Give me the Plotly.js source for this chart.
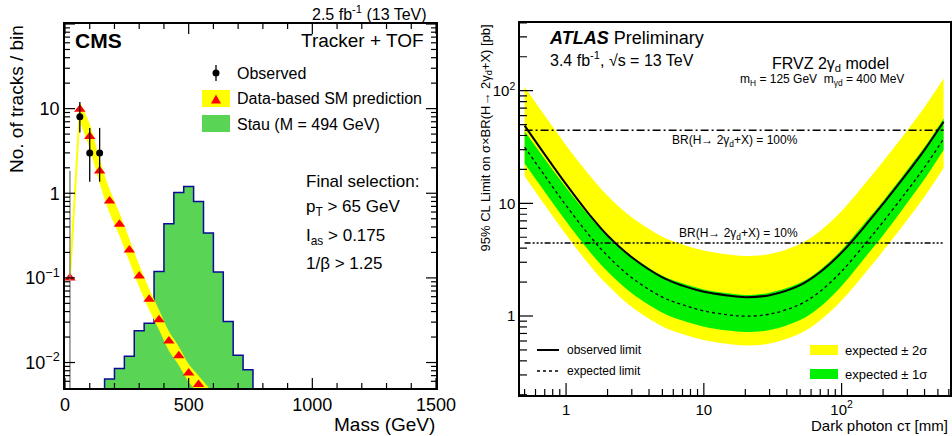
<!DOCTYPE html>
<html><head><meta charset="utf-8">
<script src="https://cdn.plot.ly/plotly-3.0.1.min.js"></script>
<style>html,body{margin:0;padding:0;background:#fff}#chart{width:952px;height:436px}</style>
</head><body><div id="chart"></div>
<script>
// ===== Left panel (CMS) data =====
const smMass = [20,60,100,140,180,220,260,300,340,380,420,460,500,540];
const smPred = [0.1,9.8,4.7,1.83,0.81,0.43,0.214,0.105,0.056,0.032,0.018,0.012,0.0075,0.0055];
const bandMass = [60,100,140,180,220,260,300,340,380,420,460,500,540,580];
const bandUp = [12.0,6.6,2.56,1.12,0.59,0.291,0.142,0.0745,0.042,0.0234,0.0155,0.0096,0.0070,0.0051];
const bandDn = [7.0,3.36,1.31,0.587,0.314,0.157,0.0778,0.0421,0.0244,0.0138,0.0093,0.0059,0.0043,0.0031];
const obsMass = [20,60,100,140];
const obsVal = [0,8,3,3];
const obsErrUp = [1.84,3.98,2.92,2.92];
const obsErrDn = [0,2.77,1.63,1.63];
const stauEdges = [160,200,240,280,320,360,400,440,480,520,560,600,640,680,720,760];
const stauVal = [0.0064,0.0085,0.0119,0.0237,0.0292,0.119,0.436,1.02,1.2,0.80,0.339,0.117,0.0305,0.0122,0.0082];
const leftXTicks = [0,500,1000,1500];
const leftYTicks = [0.01,0.1,1,10];
const leftYTickText = ['10<sup>\u22122</sup>','10<sup>\u22121</sup>','1','10'];

// ===== Right panel (ATLAS) data =====
const ctau = [0.5,0.7,1,1.5,2,3,5,7,10,15,20,30,50,70,100,150,200,300,400,550];
const observed = [49.0,27.2,14.8,7.75,5.18,3.32,2.20,1.86,1.64,1.52,1.47,1.53,1.88,2.46,3.65,6.43,9.90,18.6,29.8,52.9];
const expected = [31.6,17.6,9.57,5.06,3.42,2.19,1.47,1.26,1.11,1.025,0.996,1.04,1.27,1.66,2.49,4.45,6.85,13.0,20.9,37.4];
const exp1Up = [43.7,24.8,13.8,7.49,5.18,3.39,2.28,1.95,1.72,1.59,1.54,1.61,1.97,2.58,3.86,6.89,10.5,19.9,31.6,56.7];
const exp1Dn = [22.6,12.7,6.93,3.67,2.48,1.59,1.07,0.912,0.805,0.743,0.721,0.751,0.922,1.21,1.85,3.38,5.20,10.1,16.4,29.7];
const exp2Up = [108,60.2,32.8,17.4,11.7,7.51,5.05,4.32,3.81,3.51,3.41,3.55,4.36,5.71,8.55,15.3,23.5,44.5,71.6,128];
const exp2Dn = [17.4,9.65,5.26,2.78,1.88,1.20,0.809,0.692,0.611,0.563,0.547,0.570,0.699,0.915,1.37,2.44,3.77,7.14,11.5,20.6];
const brLevels = [44.5,4.45];
const brLabels = ['BR(H\u2192 2\u03b3<sub>d</sub>+X) = 100%','BR(H\u2192 2\u03b3<sub>d</sub>+X) = 10%'];
const rightTicks = [1,10,100];
const rightTickText = ['1','10','10<sup>2</sup>'];

// ===== helpers =====
const W = 952, H = 436;
const px = x => x / W;
const py = y => 1 - y / H;
const FONT = 'Liberation Sans, Arial, Helvetica, sans-serif';
function logMinor(lo, hi) {
  const out = [];
  for (let e = -4; e <= 4; e++) {
    for (let k = 2; k <= 9; k++) {
      const v = +(k * Math.pow(10, e)).toPrecision(3);
      if (v > lo * 1.0001 && v < hi * 0.9999) out.push(v);
    }
  }
  return out;
}
const leftXMinor = [];
for (let v = 100; v < 1500; v += 100) if (v % 500 !== 0) leftXMinor.push(v);

const LF = {x0: 65, x1: 436, y0: 24, y1: 388};
const RF = {x0: 520, x1: 950, y0: 22.7, y1: 395};
const LXR = [0, 1500], LYR = [Math.log10(0.005), 2];
const RXR = [Math.log10(0.463), Math.log10(612)], RYR = [-0.701, 2.603];

// ===== traces =====
const traces = [];
const hx = [stauEdges[0]], hy = [1e-4];
for (let i = 0; i < stauVal.length; i++) {
  hx.push(stauEdges[i], stauEdges[i + 1]);
  hy.push(stauVal[i], stauVal[i]);
}
hx.push(stauEdges[stauEdges.length - 1]); hy.push(1e-4);
traces.push({x: hx, y: hy, xaxis: 'x', yaxis: 'y', mode: 'lines', fill: 'toself',
  fillcolor: '#59d454', line: {color: '#0a0a96', width: 1.5}, hoverinfo: 'skip'});
traces.push({x: smMass, y: smPred, xaxis: 'x', yaxis: 'y', mode: 'lines',
  line: {color: '#ffff00', width: 2}, hoverinfo: 'skip'});
traces.push({x: bandMass, y: bandDn, xaxis: 'x', yaxis: 'y', mode: 'lines',
  line: {width: 0, shape: 'spline', color: '#ffff00'}, hoverinfo: 'skip'});
traces.push({x: bandMass, y: bandUp, xaxis: 'x', yaxis: 'y', mode: 'lines', fill: 'tonexty',
  fillcolor: '#ffff00', line: {width: 0, shape: 'spline', color: '#ffff00'}, hoverinfo: 'skip'});
traces.push({x: smMass, y: smPred, xaxis: 'x', yaxis: 'y', mode: 'markers',
  marker: {symbol: 'triangle-up', size: 10, color: '#ff0000'}, hoverinfo: 'skip'});
obsVal.forEach((v, i) => {
  if (v === 0) {
    traces.push({x: [obsMass[i], obsMass[i]], y: [v + obsErrUp[i], 1e-4], xaxis: 'x', yaxis: 'y',
      mode: 'lines', line: {color: '#8a8a8a', width: 1.5}, hoverinfo: 'skip'});
  }
});
const oi = obsVal.map((v, i) => i).filter(i => obsVal[i] > 0);
traces.push({x: oi.map(i => obsMass[i]), y: oi.map(i => obsVal[i]), xaxis: 'x', yaxis: 'y', mode: 'markers',
  marker: {symbol: 'circle', size: 7, color: '#000'},
  error_y: {type: 'data', symmetric: false, array: oi.map(i => obsErrUp[i]), arrayminus: oi.map(i => obsErrDn[i]),
    color: '#000', thickness: 1.3, width: 0}, hoverinfo: 'skip'});

traces.push({x: ctau, y: exp2Dn, xaxis: 'x2', yaxis: 'y2', mode: 'lines',
  line: {width: 0, shape: 'spline', color: '#ffff00'}, hoverinfo: 'skip'});
traces.push({x: ctau, y: exp2Up, xaxis: 'x2', yaxis: 'y2', mode: 'lines', fill: 'tonexty',
  fillcolor: '#ffff00', line: {width: 0, shape: 'spline', color: '#ffff00'}, hoverinfo: 'skip'});
traces.push({x: ctau, y: exp1Dn, xaxis: 'x2', yaxis: 'y2', mode: 'lines',
  line: {width: 0, shape: 'spline', color: '#00f000'}, hoverinfo: 'skip'});
traces.push({x: ctau, y: exp1Up, xaxis: 'x2', yaxis: 'y2', mode: 'lines', fill: 'tonexty',
  fillcolor: '#00f000', line: {width: 0, shape: 'spline', color: '#00f000'}, hoverinfo: 'skip'});
traces.push({x: ctau, y: expected, xaxis: 'x2', yaxis: 'y2', mode: 'lines',
  line: {color: '#000', width: 1.3, dash: '3px,3px', shape: 'spline'}, hoverinfo: 'skip'});
traces.push({x: ctau, y: observed, xaxis: 'x2', yaxis: 'y2', mode: 'lines',
  line: {color: '#000', width: 2, shape: 'spline'}, hoverinfo: 'skip'});
const brDash = ['8px,3px,2px,3px', '6px,2px,2px,2px,2px,2px,2px,2px'];
brLevels.forEach((lv, i) => {
  traces.push({x: [ctau[0], ctau[ctau.length - 1]], y: [lv, lv], xaxis: 'x2', yaxis: 'y2', mode: 'lines',
    line: {color: '#000', width: 1.5, dash: brDash[i]}, hoverinfo: 'skip'});
});

// ===== tick marks as line traces, built from the tick arrays and axis ranges =====
function tickTrace(xa, ya, segs) {
  const x = [], y = [];
  segs.forEach(s => { x.push(s[0], s[2], null); y.push(s[1], s[3], null); });
  return {x, y, xaxis: xa, yaxis: ya, mode: 'lines', line: {color: '#000', width: 1.2}, hoverinfo: 'skip', cliponaxis: false};
}
// offsets in data space corresponding to a length in pixels
const lyLen = len => (LYR[1] - LYR[0]) * len / (LF.y1 - LF.y0);
const lxLen = len => (LXR[1] - LXR[0]) * len / (LF.x1 - LF.x0);
const ryLen = len => (RYR[1] - RYR[0]) * len / (RF.y1 - RF.y0);
const rxLen = len => (RXR[1] - RXR[0]) * len / (RF.x1 - RF.x0);
const segL = [];
[[leftXTicks, 10], [leftXMinor, 5]].forEach(([vals, len]) => vals.forEach(v => {
  segL.push([v, Math.pow(10, LYR[0]), v, Math.pow(10, LYR[0] + lyLen(len))]);
  segL.push([v, Math.pow(10, LYR[1]), v, Math.pow(10, LYR[1] - lyLen(len))]);
}));
[[leftYTicks.concat([100]), 10], [logMinor(0.005, 100), 5]].forEach(([vals, len]) => vals.forEach(v => {
  segL.push([LXR[0], v, LXR[0] + lxLen(len), v]);
  segL.push([LXR[1], v, LXR[1] - lxLen(len), v]);
}));
traces.push(tickTrace('x', 'y', segL));
const segR = [];
[[rightTicks, 12], [logMinor(0.463, 612), 6]].forEach(([vals, len]) => vals.forEach(v => {
  segR.push([v, Math.pow(10, RYR[0]), v, Math.pow(10, RYR[0] + ryLen(len))]);
}));
[[rightTicks, 13], [logMinor(0.199, 401), 7]].forEach(([vals, len]) => vals.forEach(v => {
  segR.push([Math.pow(10, RXR[0]), v, Math.pow(10, RXR[0] + rxLen(len)), v]);
}));
traces.push(tickTrace('x2', 'y2', segR));

// ===== layout =====
const tf = size => ({family: FONT, size, color: '#000'});
const axBase = {showgrid: false, zeroline: false, ticks: '', fixedrange: true, tickmode: 'array',
  showline: true, linecolor: '#000', linewidth: 1.5};
const layout = {
  width: W, height: H, margin: {l: 0, r: 0, t: 0, b: 0},
  paper_bgcolor: '#fff', plot_bgcolor: '#fff', showlegend: false, hovermode: false,
  font: {family: FONT, color: '#000'},
  xaxis: Object.assign({}, axBase, {domain: [px(LF.x0), px(LF.x1)], range: LXR, anchor: 'y',
    tickvals: leftXTicks, mirror: true, tickfont: tf(18)}),
  yaxis: Object.assign({}, axBase, {domain: [py(LF.y1), py(LF.y0)], type: 'log', range: LYR, anchor: 'x',
    tickvals: leftYTicks, ticktext: leftYTickText, mirror: true, tickfont: tf(18)}),
  xaxis2: Object.assign({}, axBase, {domain: [px(RF.x0), px(RF.x1)], type: 'log', range: RXR, anchor: 'y2',
    tickvals: rightTicks, ticktext: rightTickText, mirror: true, tickfont: tf(15)}),
  yaxis2: Object.assign({}, axBase, {domain: [py(RF.y1), py(RF.y0)], type: 'log', range: RYR, anchor: 'x2',
    tickvals: rightTicks, ticktext: rightTickText, mirror: true, tickfont: tf(15)}),
  annotations: [], shapes: []
};
const S = s => layout.shapes.push(Object.assign({xref: 'paper', yref: 'paper', layer: 'above'}, s));
const A = (text, x, y, size, xanchor, extra) => layout.annotations.push(Object.assign({
  text, x: px(x), y: py(y), xref: 'paper', yref: 'paper', showarrow: false,
  xanchor: xanchor || 'left', yanchor: 'middle', font: tf(size)}, extra || {}));

// left panel texts
A('2.5 fb<sup>-1</sup> (13 TeV)', 429, 13, 16, 'right');
A('<b>CMS</b>', 73, 40, 21, 'left');
A('Tracker + TOF', 426, 40, 19, 'right');
A('Observed', 235, 73, 16, 'left');
A('Data-based SM prediction', 235, 98, 16, 'left');
A('Stau (M = 494 GeV)', 235, 124, 16, 'left');
A('Final selection:', 304, 181, 17, 'left');
A('p<sub>T</sub> > 65 GeV', 304, 208, 17, 'left');
A('I<sub>as</sub> > 0.175', 304, 237, 17, 'left');
A('1/\u03b2 > 1.25', 304, 263, 17, 'left');
A('No. of tracks / bin', 17, 23, 19, 'center', {textangle: -90, yanchor: 'top'});
A('Mass (GeV)', 437, 424, 19, 'right');

// right panel texts
A('<b><i>ATLAS</i></b> Preliminary', 547, 38, 18, 'left');
A('3.4 fb<sup>-1</sup>, \u221as = 13 TeV', 548, 59, 16, 'left');
A('FRVZ 2\u03b3<sub>d</sub> model', 830, 64, 16, 'center');
A('m<sub>H</sub> = 125 GeV  m<sub>\u03b3d</sub> = 400 MeV', 822, 80, 12, 'center');
A(brLabels[0], 735, 141, 12, 'center');
A(brLabels[1], 738, 234, 12, 'center');
A('observed limit', 565, 350, 12, 'left');
A('expected limit', 565, 371, 12, 'left');
A('expected \u00b1 2\u03c3', 843, 350, 13, 'left');
A('expected \u00b1 1\u03c3', 843, 374, 13, 'left');
A('95% CL Limit on \u03c3\u00d7BR(H\u2192 2\u03b3<sub>d</sub>+X) [pb]', 486, 22, 13, 'center', {textangle: -90, yanchor: 'top'});
A('Dark photon c\u03c4 [mm]', 950, 425, 15, 'right');

// legend glyphs
S({type: 'line', x0: px(216), x1: px(216), y0: py(65), y1: py(81), line: {color: '#000', width: 1.3}});
S({type: 'circle', x0: px(212.5), x1: px(219.5), y0: py(76.5), y1: py(69.5), fillcolor: '#000', line: {width: 0}});
S({type: 'rect', x0: px(202), x1: px(230), y0: py(107), y1: py(90), fillcolor: '#ffff00', line: {width: 0}});
S({type: 'path', path: `M ${px(211)} ${py(103.5)} L ${px(221)} ${py(103.5)} L ${px(216)} ${py(94.5)} Z`, fillcolor: '#ff0000', line: {width: 0}});
S({type: 'rect', x0: px(202), x1: px(230), y0: py(132), y1: py(115), fillcolor: '#59d454', line: {width: 0}});
S({type: 'line', x0: px(537), x1: px(559), y0: py(350), y1: py(350), line: {color: '#000', width: 2}});
S({type: 'line', x0: px(537), x1: px(559), y0: py(371), y1: py(371), line: {color: '#000', width: 1.3, dash: '3px,3px'}});
S({type: 'rect', x0: px(810), x1: px(838), y0: py(355), y1: py(345), fillcolor: '#ffff00', line: {width: 0}});
S({type: 'rect', x0: px(810), x1: px(838), y0: py(379), y1: py(369), fillcolor: '#00f000', line: {width: 0}});

Plotly.newPlot('chart', traces, layout, {displayModeBar: false});
</script></body></html>
